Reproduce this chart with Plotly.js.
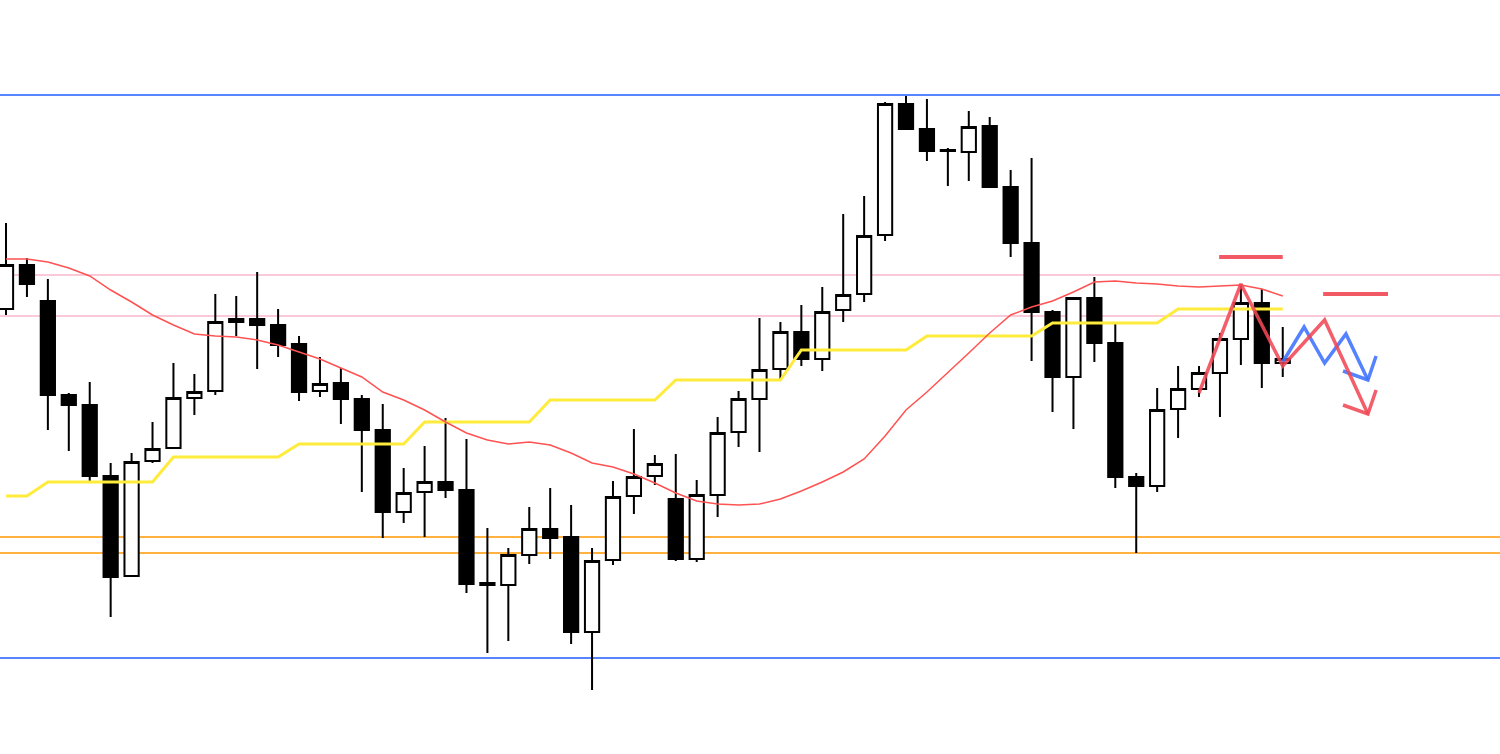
<!DOCTYPE html>
<html>
<head>
<meta charset="utf-8">
<script src="https://cdn.plot.ly/plotly-3.0.1.min.js"></script>
<style>
html,body{margin:0;padding:0;background:#fff;}
#chart{width:1500px;height:754px;}
</style>
</head>
<body>
<div id="chart"></div>
<script>
// ---- candle data (price units) ----
const openP  = [151.91,152.35,151.99,151.05,150.95,150.24,149.24,150.39,150.52,151.02,151.09,151.81,151.81,151.75,151.56,151.09,151.17,151.01,150.70,149.88,150.08,150.18,150.10,149.17,149.15,149.45,149.71,149.63,148.68,149.40,150.04,150.24,150.01,149.41,150.05,150.68,151.01,151.31,151.68,151.41,151.90,152.06,152.65,153.96,153.71,153.50,153.48,153.74,153.13,152.57,151.88,151.23,152.02,151.57,150.23,150.14,150.91,151.11,151.27,151.61,151.97,151.37];
const highP  = [152.77,152.42,152.21,151.07,151.18,150.37,150.47,150.78,151.37,151.26,152.06,152.04,152.28,151.91,151.64,151.43,151.32,151.05,150.96,150.32,150.54,150.82,150.61,149.72,149.52,149.93,150.12,149.95,149.52,150.19,150.71,150.45,150.46,150.20,150.83,151.09,151.82,151.78,151.95,152.13,152.86,153.04,153.98,154.04,154.01,153.52,153.89,153.83,153.30,153.42,151.90,152.03,152.23,151.76,150.27,151.12,151.34,151.34,151.67,152.16,152.11,151.73];
const lowP   = [151.85,152.03,150.70,150.49,150.18,148.83,149.23,150.37,150.52,150.85,151.05,151.64,151.31,151.43,150.99,151.03,150.76,150.08,149.62,149.77,149.63,150.02,149.07,148.47,148.59,149.36,149.41,148.56,148.10,149.35,149.86,150.15,149.39,149.38,149.83,150.53,150.48,151.20,151.34,151.29,151.78,151.98,152.59,153.71,153.39,153.14,153.19,153.13,152.43,151.39,150.88,150.71,151.38,150.12,149.47,150.08,150.62,151.03,150.83,151.35,151.12,151.23];
const closeP = [152.35,152.16,151.05,150.95,150.24,149.23,150.38,150.51,151.02,151.08,151.78,151.78,151.75,151.55,151.08,151.16,151.01,150.70,149.88,150.07,150.18,150.10,149.16,149.15,149.45,149.71,149.62,148.68,149.39,150.03,150.23,150.36,149.41,150.05,150.67,151.01,151.30,151.68,151.41,151.88,152.05,152.64,153.96,153.71,153.49,153.49,153.73,153.13,152.57,151.88,151.23,152.02,151.57,150.23,150.14,150.90,151.11,151.27,151.61,151.97,151.37,151.41];

// moving average (thin red)
const maLine = [152.41,152.41,152.38,152.32,152.24,152.10,151.98,151.85,151.75,151.66,151.64,151.63,151.60,151.55,151.48,151.41,151.32,151.23,151.08,151.00,150.90,150.78,150.67,150.60,150.56,150.58,150.55,150.47,150.37,150.33,150.26,150.17,150.07,149.99,149.96,149.95,149.96,150.01,150.09,150.18,150.28,150.41,150.64,150.90,151.08,151.27,151.47,151.67,151.85,151.93,151.99,152.08,152.18,152.19,152.17,152.16,152.14,152.13,152.14,152.15,152.11,152.04];

// stepped base line (yellow)
const baseLine = [150.04,150.04,150.18,150.18,150.18,150.18,150.18,150.18,150.43,150.43,150.43,150.43,150.43,150.43,150.56,150.56,150.56,150.56,150.56,150.56,150.78,150.78,150.78,150.78,150.78,150.78,151.00,151.00,151.00,151.00,151.00,151.00,151.20,151.20,151.20,151.20,151.20,151.20,151.50,151.50,151.50,151.50,151.50,151.50,151.64,151.64,151.64,151.64,151.64,151.64,151.77,151.77,151.77,151.77,151.77,151.77,151.91,151.91,151.91,151.91,151.91,151.91];

// horizontal levels
const blueLevels   = [154.05, 148.42];
const pinkLevels   = [152.25, 151.84];
const orangeLevels = [149.63, 149.47];

// drawn scenario (red / blue zigzags and short red levels)
const redZigX  = [57, 59, 61, 63, 65.07];
const redZigY  = [151.07, 152.16, 151.34, 151.80, 150.86];
const redHeadX = [63.88, 65.07, 65.46];
const redHeadY = [150.95, 150.86, 151.10];
const blueZigX  = [61, 62.02, 63, 64.02, 65.07];
const blueZigY  = [151.38, 151.73, 151.37, 151.66, 151.20];
const blueHeadX = [63.88, 65.07, 65.46];
const blueHeadY = [151.29, 151.20, 151.44];
const redSeg1X = [57.96, 61];    const redSeg1Y = [152.43, 152.43];
const redSeg2X = [62.93, 66.03]; const redSeg2Y = [152.06, 152.06];

const idx = openP.map((_, i) => i);

const traces = [
  {type:'scatter', mode:'lines', x:idx, y:baseLine, line:{color:'#FFEB3B', width:3}, hoverinfo:'skip'},
  {type:'scatter', mode:'lines', x:idx, y:maLine, line:{color:'#FF5252', width:1.5}, hoverinfo:'skip'},
  {type:'candlestick', x:idx, open:openP, high:highP, low:lowP, close:closeP,
   whiskerwidth:0,
   increasing:{line:{color:'#000000', width:2}, fillcolor:'#FFFFFF'},
   decreasing:{line:{color:'#000000', width:2}, fillcolor:'#000000'}},
  {type:'scatter', mode:'lines', x:redSeg1X, y:redSeg1Y, line:{color:'rgba(240,72,84,0.9)', width:4}, hoverinfo:'skip'},
  {type:'scatter', mode:'lines', x:redSeg2X, y:redSeg2Y, line:{color:'rgba(240,72,84,0.9)', width:4}, hoverinfo:'skip'},
  {type:'scatter', mode:'lines', x:blueZigX, y:blueZigY, line:{color:'rgba(66,118,255,0.9)', width:3.5}, hoverinfo:'skip'},
  {type:'scatter', mode:'lines', x:blueHeadX, y:blueHeadY, line:{color:'rgba(66,118,255,0.9)', width:3.5}, hoverinfo:'skip'},
  {type:'scatter', mode:'lines', x:redZigX, y:redZigY, line:{color:'rgba(240,72,84,0.88)', width:3.5}, hoverinfo:'skip'},
  {type:'scatter', mode:'lines', x:redHeadX, y:redHeadY, line:{color:'rgba(240,72,84,0.88)', width:3.5}, hoverinfo:'skip'}
];

const shapes = [];
blueLevels.forEach(v => shapes.push({type:'line', xref:'paper', x0:0, x1:1, y0:v, y1:v, line:{color:'#1F5BFF', width:1.5}, layer:'below'}));
pinkLevels.forEach(v => shapes.push({type:'line', xref:'paper', x0:0, x1:1, y0:v, y1:v, line:{color:'#F8B8CC', width:1.5}, layer:'below'}));
orangeLevels.forEach(v => shapes.push({type:'line', xref:'paper', x0:0, x1:1, y0:v, y1:v, line:{color:'#FF9800', width:1.5}, layer:'below'}));

const layout = {
  width:1500, height:754,
  margin:{l:0, r:0, t:0, b:0},
  paper_bgcolor:'#FFFFFF', plot_bgcolor:'#FFFFFF',
  showlegend:false,
  boxgap:0.32, boxgroupgap:0,
  xaxis:{range:[-0.287, 71.38], visible:false, showgrid:false, zeroline:false, rangeslider:{visible:false}, fixedrange:true},
  yaxis:{range:[147.46, 155.0], visible:false, showgrid:false, zeroline:false, fixedrange:true},
  shapes:shapes
};

Plotly.newPlot('chart', traces, layout, {displayModeBar:false, staticPlot:true});
</script>
</body>
</html>
